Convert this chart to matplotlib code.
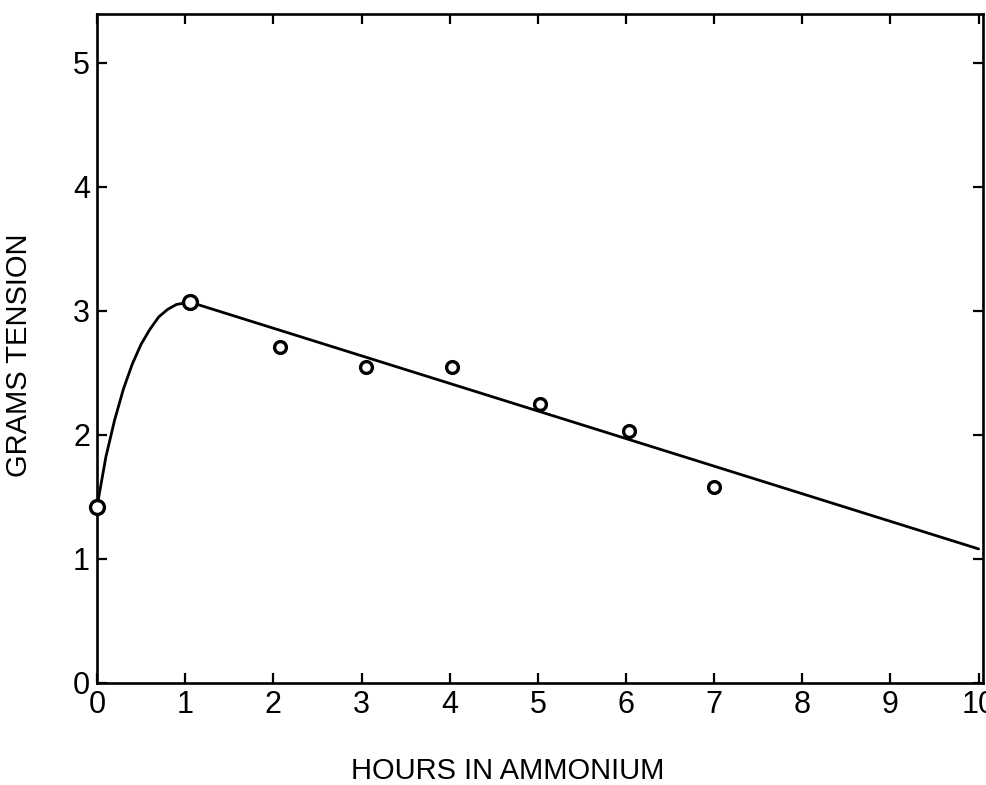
import matplotlib
matplotlib.use("Agg")
import matplotlib.pyplot as plt

plt.rcParams['font.family'] = ['Liberation Sans', 'DejaVu Sans']

# measured points (hours, grams tension)
hours = [0, 1.05, 2.07, 3.05, 4.03, 5.03, 6.03, 7.0]
tension = [1.42, 3.07, 2.71, 2.55, 2.55, 2.25, 2.03, 1.58]

# fitted curve as drawn
curve_x = [0.0, 0.1, 0.2, 0.3, 0.4, 0.5, 0.6, 0.7, 0.8, 0.9, 1.05, 10.0]
curve_y = [1.42, 1.82, 2.12, 2.37, 2.57, 2.73, 2.85, 2.95, 3.01, 3.05, 3.07, 1.08]

xticks = list(range(0, 11))
yticks = list(range(0, 6))

fig = plt.figure(figsize=(9.86, 7.85), dpi=100)
ax = fig.add_axes([0.0984, 0.130, 0.8986, 0.852])

ax.plot(curve_x, curve_y, color='black', lw=2.0, solid_capstyle='round',
        solid_joinstyle='round', zorder=2)
ax.plot(hours[:2], tension[:2], 'o', ms=10, mfc='white', mec='black', mew=2.4,
        zorder=3, clip_on=False)
ax.plot(hours[2:], tension[2:], 'o', ms=8.5, mfc='white', mec='black', mew=2.4,
        zorder=3, clip_on=False)

ax.set_xlim(0, 10.05)
ax.set_ylim(0, 5.39)
ax.set_xticks(xticks)
ax.set_yticks(yticks)
ax.tick_params(direction='in', length=7, width=1.6, labelsize=22,
               top=True, right=True, labeltop=False, labelright=False)
ax.tick_params(axis='x', pad=5)
ax.tick_params(axis='y', pad=5)

for s in ax.spines.values():
    s.set_linewidth(1.9)

ax.set_xlabel('HOURS IN AMMONIUM', fontsize=21)
ax.set_ylabel('GRAMS TENSION', fontsize=21)
ax.xaxis.set_label_coords(0.463, -0.110)
ax.yaxis.set_label_coords(-0.072, 0.49)

fig.savefig('out.png', dpi=100)
